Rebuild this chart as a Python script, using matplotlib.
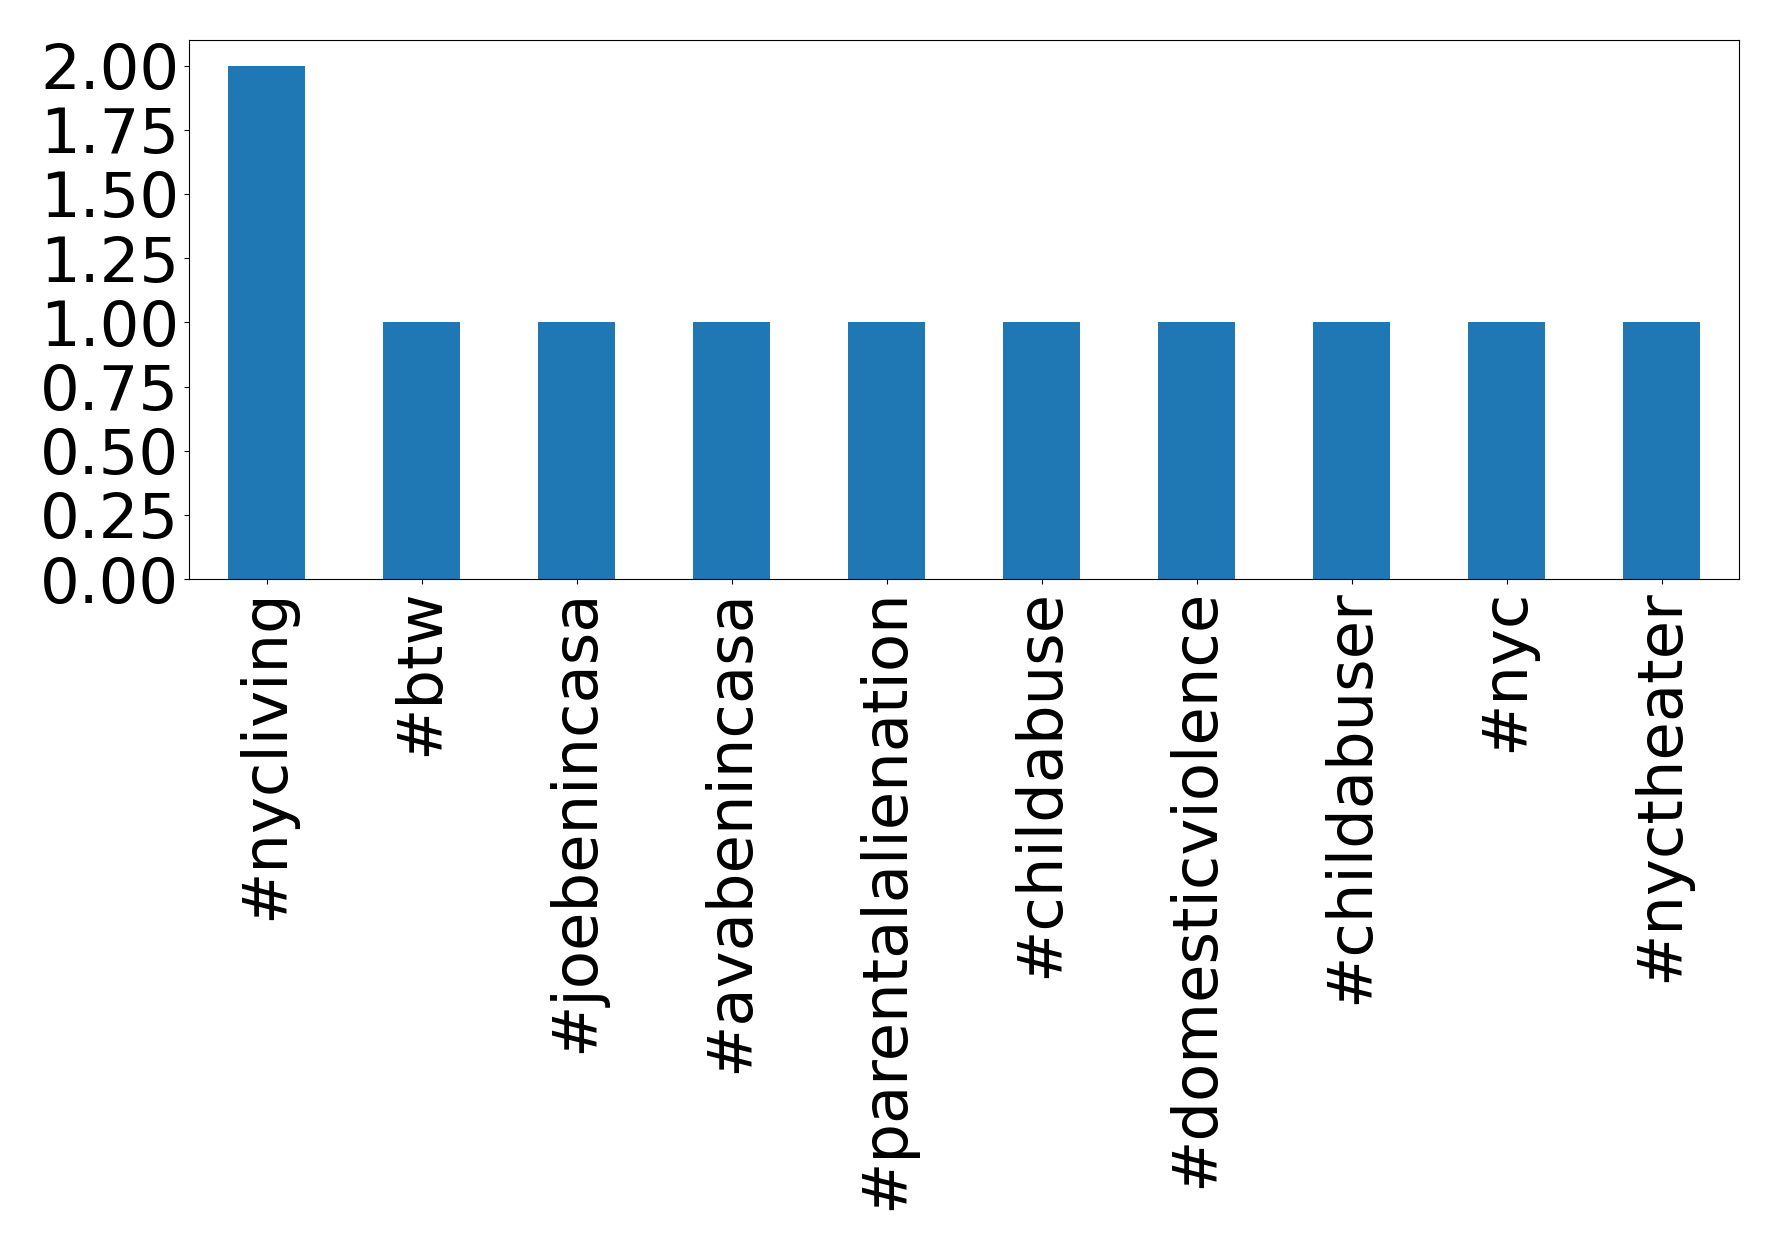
import matplotlib
matplotlib.use("Agg")
import matplotlib.pyplot as plt

categories = ["#nycliving", "#btw", "#joebenincasa", "#avabenincasa", "#parentalalienation",
              "#childabuse", "#domesticviolence", "#childabuser", "#nyc", "#nyctheater"]
counts = [2, 1, 1, 1, 1, 1, 1, 1, 1, 1]
yticks = [0.0, 0.25, 0.5, 0.75, 1.0, 1.25, 1.5, 1.75, 2.0]

fig = plt.figure(figsize=(17.78, 12.5), dpi=100)
ax = fig.add_axes([189/1778, 1 - 579/1250, (1739-189)/1778, (579-40)/1250])
x = list(range(len(categories)))
ax.bar(x, counts, width=0.5, color="#1f77b4")
ax.set_xlim(-0.5, len(categories) - 0.5)
ax.set_ylim(0, 2.1)
ax.set_yticks(yticks)
ax.set_yticklabels([f"{v:.2f}" for v in yticks])
ax.set_xticks(x)
ax.set_xticklabels(categories, rotation=90)
ax.tick_params(labelsize=45)
fig.savefig("out.png", dpi=100)
